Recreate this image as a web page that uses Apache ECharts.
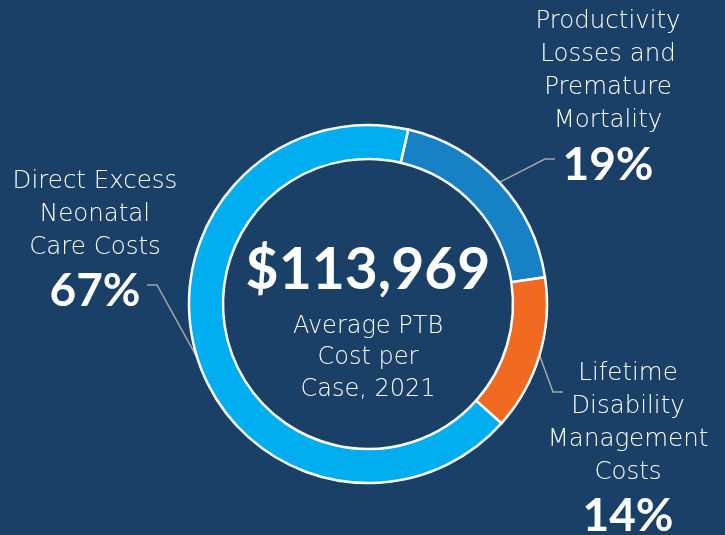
<!DOCTYPE html>
<html>
<head>
<meta charset="utf-8">
<script src="https://cdn.jsdelivr.net/npm/echarts@6/dist/echarts.min.js"></script>
<style>
  html, body { margin: 0; padding: 0; background: #1a4068; }
  #chart { width: 725px; height: 535px; }
</style>
</head>
<body>
<div id="chart"></div>
<script>
// categories, clockwise from the top
const categories = [
  "Productivity\nLosses and\nPremature\nMortality",
  "Lifetime\nDisability\nManagement\nCosts",
  "Direct Excess\nNeonatal\nCare Costs"
];
const shares = [19, 14, 67];
const sliceColors = ["#1781c6", "#f26a22", "#00aeef"];
const totalText = "$113,969";
const totalCaption = "Average PTB\nCost per\nCase, 2021";

// label placement (center x, top y), leader line bend and end
const labelSpots = [[608, 5.5], [628, 357], [95, 165]];
const lineBends = [[545, 159], [553, 392], [157, 285]];
const lineEnds = [[555, 159], [563, 392], [147, 285]];

const chart = echarts.init(document.getElementById("chart"));
const boldFont = "Lato, 'Open Sans', sans-serif";
const thinFont = "'DejaVu Sans', sans-serif";

const option = {
  backgroundColor: "#1a4068",
  animation: false,
  graphic: [
    {
      type: "text",
      x: 368,
      y: 271,
      style: {
        text: totalText,
        fill: "#ffffff",
        font: "bold 57px " + boldFont,
        align: "center",
        verticalAlign: "middle"
      }
    },
    {
      type: "text",
      x: 368,
      y: 358,
      style: {
        text: totalCaption,
        fill: "#ffffff",
        font: "200 24px " + thinFont,
        lineHeight: 31.5,
        align: "center",
        verticalAlign: "middle"
      }
    }
  ],
  series: [
    {
      type: "pie",
      center: [368, 304],
      radius: [145, 179],
      startAngle: 77,
      clockwise: true,
      silent: true,
      avoidLabelOverlap: false,
      data: categories.map(function (name, i) {
        return { name: name, value: shares[i], itemStyle: { color: sliceColors[i] } };
      }),
      itemStyle: {
        borderColor: "#ffffff",
        borderWidth: 2.5
      },
      label: {
        show: true,
        position: "outside",
        overflow: "none",
        edgeDistance: 0,
        formatter: function (p) {
          return "{n|" + p.name + "}\n{p|" + p.value + "%}";
        },
        rich: {
          n: {
            color: "#ffffff",
            fontFamily: thinFont,
            fontWeight: 200,
            fontSize: 24.5,
            lineHeight: 33,
            align: "center"
          },
          p: {
            color: "#ffffff",
            fontFamily: boldFont,
            fontWeight: "bold",
            fontSize: 46,
            lineHeight: 55,
            align: "center"
          }
        }
      },
      labelLine: {
        show: true,
        length: 20,
        length2: 10,
        lineStyle: { color: "#a6a6a6", width: 1.5 }
      },
      labelLayout: function (params) {
        const i = params.dataIndex;
        const pts = params.labelLinePoints;
        const start = pts ? pts[0] : lineBends[i];
        return {
          x: labelSpots[i][0],
          y: labelSpots[i][1],
          align: "center",
          verticalAlign: "top",
          labelLinePoints: [start, lineBends[i], lineEnds[i]]
        };
      }
    }
  ]
};

chart.setOption(option);
window.addEventListener("resize", function () {
  chart.resize();
});
</script>
</body>
</html>
